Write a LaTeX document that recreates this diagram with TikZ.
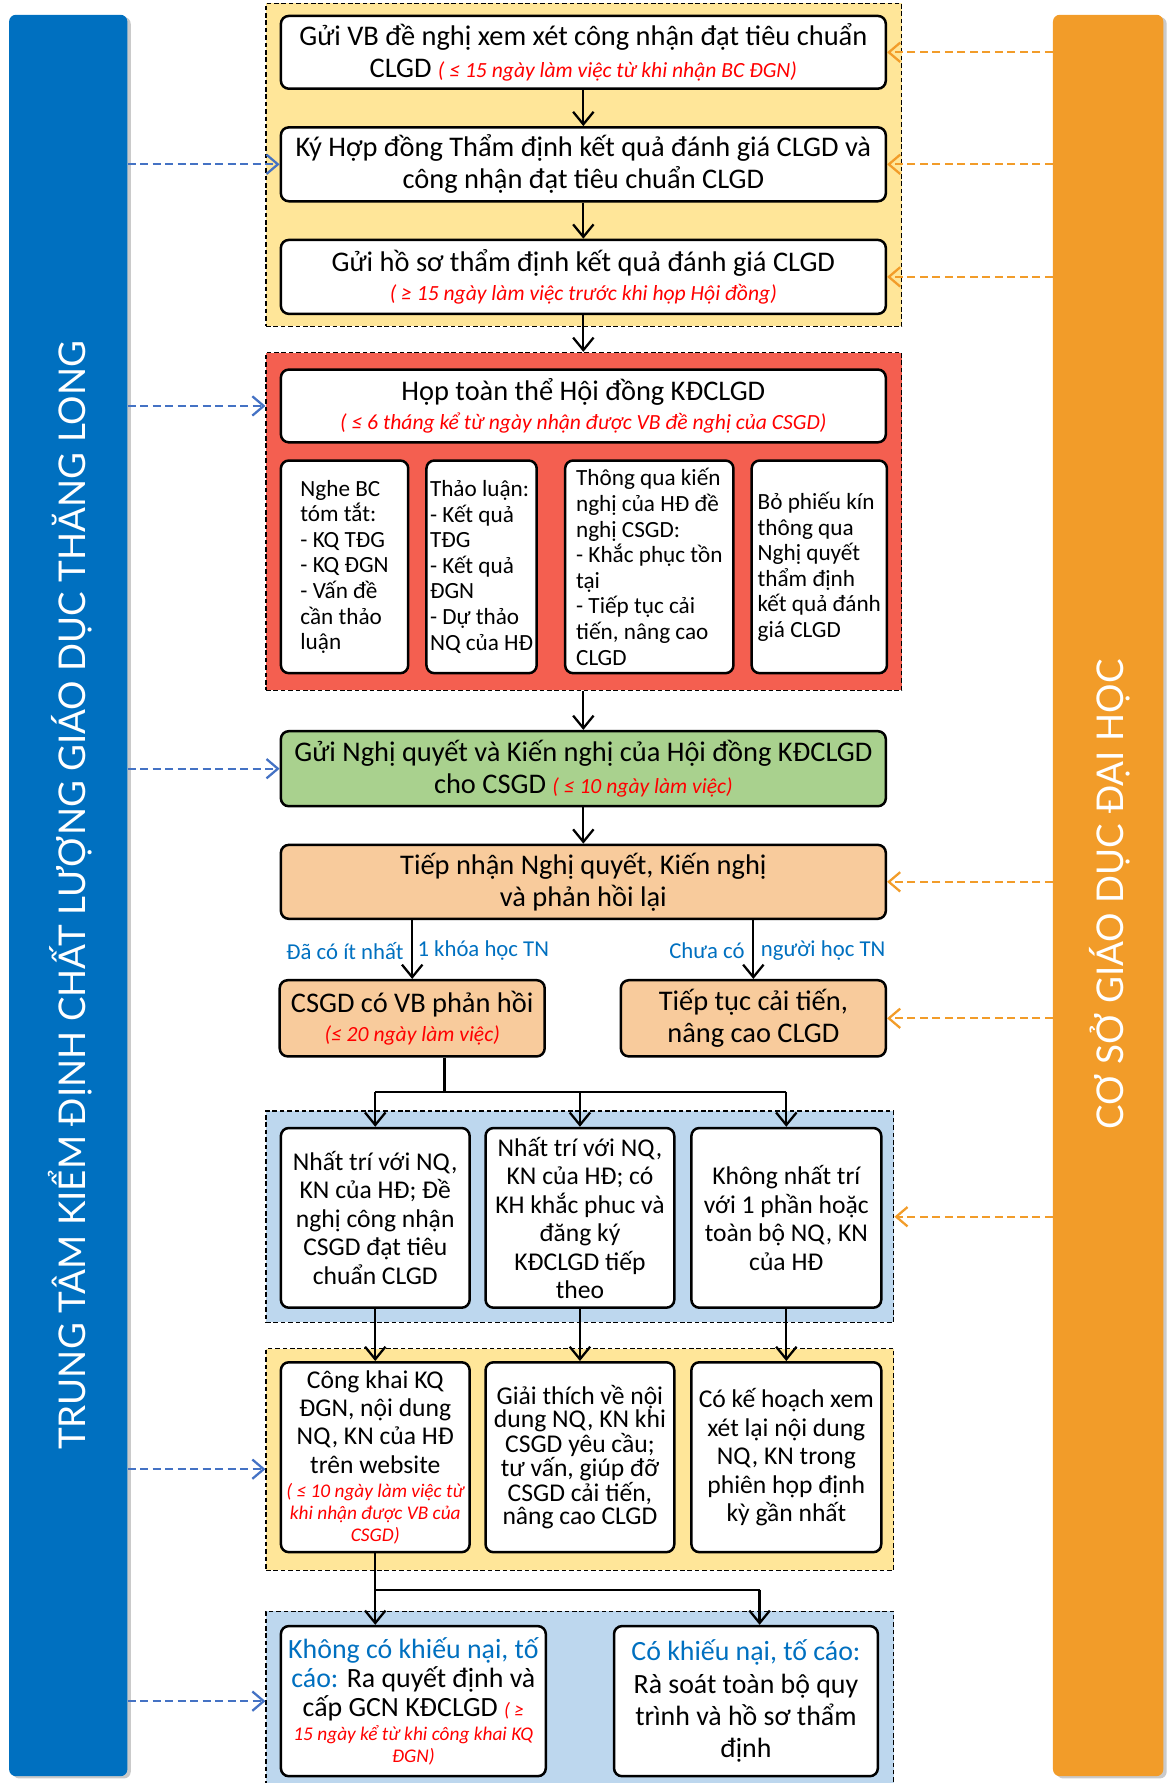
\documentclass[tikz,border=0pt]{standalone}
\usepackage{fontspec}
\usepackage{graphicx}
\setmainfont{Carlito}
\newfontfamily\sidefont{Lato}
\usetikzlibrary{arrows.meta,shadows}
\definecolor{cBlueBar}{RGB}{0,112,192}
\definecolor{cOrgBar}{RGB}{242,156,41}
\definecolor{cYel}{RGB}{255,230,153}
\definecolor{cRedG}{RGB}{244,95,80}
\definecolor{cBlueG}{RGB}{189,215,238}
\definecolor{cGreen}{RGB}{169,209,142}
\definecolor{cPeach}{RGB}{248,203,156}
\definecolor{cDashB}{RGB}{68,114,196}
\definecolor{cDashO}{RGB}{242,156,41}
\definecolor{cLbl}{RGB}{0,112,192}
\definecolor{cRed}{RGB}{255,0,0}
\newcommand\fMain{\fontsize{25}{28}\selectfont}
\newcommand\fSub{\fontsize{20.4}{22.5}\selectfont}
\newcommand\fMid{\fontsize{22.5}{25}\selectfont}
\newcommand\fRed{\fontsize{19}{20}\selectfont\itshape\color{cRed}}
\newcommand\fRedS{\fontsize{17}{19}\selectfont\itshape\color{cRed}}
\newcommand\fLbl{\fontsize{20}{22}\selectfont\color{cLbl}}
\begin{document}
\begin{tikzpicture}[x=1pt,y=-1pt,
  box/.style={draw=black, line width=2.2pt, rounded corners=7pt, fill=white, inner sep=1pt, align=center, font=\fMain},
  sub/.style={box, align=left, font=\fSub},
  mid/.style={box, font=\fMid},
  grp/.style={draw=black, line width=1.1pt, dash pattern=on 4pt off 2.5pt, inner sep=0pt},
  bar/.style={rounded corners=6pt, inner sep=0pt, drop shadow={shadow xshift=3pt, shadow yshift=-2pt, opacity=0.35, fill=black!60}},
  arr/.style={line width=2pt, -{Straight Barb[length=11pt,width=18pt,line width=2pt]}},
  conn/.style={line width=2pt},
  barr/.style={draw=cDashB, line width=2pt, dash pattern=on 7pt off 4pt, -{Straight Barb[length=10pt,width=17pt,line width=2pt]}},
  oarr/.style={draw=cDashO, line width=2pt, dash pattern=on 7pt off 4pt, -{Straight Barb[length=10pt,width=17pt,line width=2pt]}},
  lbl/.style={inner sep=0pt, font=\fLbl},
  side/.style={rotate=90, text=white, inner sep=0pt}
]
\useasboundingbox (0,0) rectangle (1031,1568);

% side bars
\node[bar, fill=cBlueBar, minimum width=104pt, minimum height=1549pt] (lbar) at (60,787.5) {};
\node[side] (ltxt) at (62,787.5) {\resizebox{975pt}{!}{\sidefont TRUNG TÂM KIỂM ĐỊNH CHẤT LƯỢNG GIÁO DỤC THĂNG LONG}};
\node[bar, fill=cOrgBar, minimum width=97pt, minimum height=1549pt] (rbar) at (974.5,787.5) {};
\node[side] (rtxt) at (976,786.5) {\resizebox{413pt}{!}{\sidefont CƠ SỞ GIÁO DỤC ĐẠI HỌC}};

% groups
\node[grp, fill=cYel, minimum width=559pt, minimum height=284pt] (g1) at (513.5,145) {};
\node[grp, fill=cRedG, minimum width=559pt, minimum height=297pt] (g2) at (513.5,458.5) {};
\node[grp, fill=cBlueG, minimum width=552pt, minimum height=186pt] (g4) at (510,1070) {};
\node[grp, fill=cYel, minimum width=552pt, minimum height=195pt] (g5) at (510,1283.5) {};
\node[grp, fill=cBlueG, minimum width=552pt, minimum height=183pt] (g6) at (510,1508.5) {};

% top group
\node[box, minimum width=532pt, minimum height=64pt] (b1) at (513,46) {Gửi VB đề nghị xem xét công nhận đạt tiêu chuẩn\\CLGD {\fRed ( ≤ 15 ngày làm việc từ khi nhận BC ĐGN)}};
\node[box, minimum width=532pt, minimum height=65pt] (b2) at (513,144.5) {Ký Hợp đồng Thẩm định kết quả đánh giá CLGD và\\công nhận đạt tiêu chuẩn CLGD};
\node[box, minimum width=532pt, minimum height=65pt] (b3) at (513,243.5) {Gửi hồ sơ thẩm định kết quả đánh giá CLGD\\[-3pt]{\fRed ( ≥ 15 ngày làm việc trước khi họp Hội đồng)}};

% red group
\node[box, minimum width=532pt, minimum height=64pt] (hop) at (513,357) {Họp toàn thể Hội đồng KĐCLGD\\[-3pt]{\fRed ( ≤ 6 tháng kể từ ngày nhận được VB đề nghị của CSGD)}};
\node[sub, minimum width=112pt, minimum height=187pt] (sa) at (303,498.5) {Nghe BC\\tóm tắt:\\- KQ TĐG\\- KQ ĐGN\\- Vấn đề\\cần thảo\\luận};
\node[sub, minimum width=97pt, minimum height=187pt] (sb) at (423.5,498.5) {Thảo luận:\\- Kết quả\\TĐG\\- Kết quả\\ĐGN\\- Dự thảo\\NQ của HĐ};
\node[sub, minimum width=148pt, minimum height=187pt] (sc) at (571,498.5) {Thông qua kiến\\nghị của HĐ đề\\nghị CSGD:\\- Khắc phục tồn\\tại\\- Tiếp tục cải\\tiến, nâng cao\\CLGD};
\node[sub, minimum width=119pt, minimum height=187pt] (sd) at (720.5,498.5) {Bỏ phiếu kín\\thông qua\\Nghị quyết\\thẩm định\\kết quả đánh\\giá CLGD};

% green and peach
\node[box, fill=cGreen, minimum width=532pt, minimum height=66pt] (gr) at (513,676) {Gửi Nghị quyết và Kiến nghị của Hội đồng KĐCLGD\\cho CSGD {\fRed ( ≤ 10 ngày làm việc)}};
\node[box, fill=cPeach, minimum width=532pt, minimum height=65pt] (tn) at (513,775.5) {Tiếp nhận Nghị quyết, Kiến nghị\\và phản hồi lại};
\node[box, fill=cPeach, minimum width=233pt, minimum height=67pt] (cs) at (362.5,895.5) {CSGD có VB phản hồi\\[-3pt]{\fRed (≤ 20 ngày làm việc)}};
\node[box, fill=cPeach, minimum width=233pt, minimum height=67pt] (tt) at (662.5,895.5) {Tiếp tục cải tiến,\\nâng cao CLGD};

% blue group 1
\node[mid, minimum width=166pt, minimum height=158pt] (e) at (330,1071) {Nhất trí với NQ,\\KN của HĐ; Đề\\nghị công nhận\\CSGD đạt tiêu\\chuẩn CLGD};
\node[mid, minimum width=166pt, minimum height=158pt] (f) at (510,1071) {Nhất trí với NQ,\\KN của HĐ; có\\KH khắc phuc và\\đăng ký\\KĐCLGD tiếp\\theo};
\node[mid, minimum width=167pt, minimum height=158pt] (g) at (691.5,1071) {Không nhất trí\\với 1 phần hoặc\\toàn bộ NQ, KN\\của HĐ};

% yellow group 2
\node[mid, minimum width=166pt, minimum height=167pt] (h) at (330,1281.5) {Công khai KQ\\ĐGN, nội dung\\NQ, KN của HĐ\\trên website\\[-4pt]{\fRedS ( ≤ 10 ngày làm việc từ}\\[-5.5pt]{\fRedS khi nhận được VB của}\\[-5.5pt]{\fRedS CSGD)}};
\node[mid, font=\fontsize{22.5}{20.2}\selectfont, minimum width=166pt, minimum height=167pt] (i) at (510,1281.5) {Giải thích về nội\\dung NQ, KN khi\\CSGD yêu cầu;\\tư vấn, giúp đỡ\\CSGD cải tiến,\\nâng cao CLGD};
\node[mid, minimum width=167pt, minimum height=167pt] (j) at (691.5,1281.5) {Có kế hoạch xem\\xét lại nội dung\\NQ, KN trong\\phiên họp định\\kỳ gần nhất};

% blue group 2
\node[box, font=\fontsize{24.5}{25.5}\selectfont, minimum width=233pt, minimum height=132pt] (k) at (363.5,1496) {{\color{cLbl}Không có khiếu nại, tố}\\{\color{cLbl}cáo:} Ra quyết định và\\cấp GCN KĐCLGD {\fRedS ( ≥}\\[-4pt]{\fRedS 15 ngày kể từ khi công khai KQ}\\[-6.5pt]{\fRedS ĐGN)}};
\node[box, font=\fontsize{24.5}{28.5}\selectfont, minimum width=232pt, minimum height=132pt] (l) at (656,1496) {{\color{cLbl}Có khiếu nại, tố cáo:}\\Rà soát toàn bộ quy\\trình và hồ sơ thẩm\\định};

% main flow connectors
\draw[arr] (b1) -- (b2);
\draw[arr] (b2) -- (b3);
\draw[arr] (b3.south) -- (b3.south |- g2.north);
\draw[arr] (gr.north |- g2.south) -- (gr.north);
\draw[arr] (gr) -- (tn);
\draw[arr] (tn.south -| cs.north) -- (cs.north);
\draw[arr] (tn.south -| tt.north) -- (tt.north);
\node[lbl, anchor=east] (la1) at (355,836) {Đã có ít nhất};
\node[lbl, anchor=west] (la2) at (367,836) {1 khóa học TN};
\node[lbl, anchor=east] (lb1) at (655,836) {Chưa có};
\node[lbl, anchor=west] (lb2) at (669,836) {người học TN};

\coordinate (j1) at ([xshift=28.5pt]cs.south);
\coordinate (hb) at (0,960);
\draw[conn] (j1) -- (j1 |- hb);
\draw[conn] (e.north |- hb) -- (g.north |- hb);
\draw[arr] (e.north |- hb) -- (e.north);
\draw[arr] (f.north |- hb) -- (f.north);
\draw[arr] (g.north |- hb) -- (g.north);
\draw[arr] (e) -- (h);
\draw[arr] (f) -- (i);
\draw[arr] (g) -- (j);

\coordinate (hb2) at (0,1398);
\coordinate (lin) at ([xshift=12pt]l.north);
\draw[conn] (h.south) -- (h.south |- hb2) -- (lin |- hb2);
\draw[arr] (h.south |- hb2) -- (h.south |- k.north);
\draw[arr] (lin |- hb2) -- (lin);

% side connectors
\coordinate (yb) at (0,1292);
\draw[barr] (lbar.east |- b2.west) -- (b2.west);
\draw[barr] (lbar.east |- hop.west) -- (hop.west -| g2.west);
\draw[barr] (lbar.east |- gr.west) -- (gr.west);
\draw[barr] (lbar.east |- yb) -- (g5.west |- yb);
\draw[barr] (lbar.east |- k.west) -- (k.west -| g6.west);

\draw[oarr] (rbar.west |- b1.east) -- (b1.east);
\draw[oarr] (rbar.west |- b2.east) -- (b2.east);
\draw[oarr] (rbar.west |- b3.east) -- (b3.east);
\draw[oarr] (rbar.west |- tn.east) -- (tn.east);
\draw[oarr] (rbar.west |- tt.east) -- (tt.east);
\draw[oarr] (rbar.west |- g4.east) -- (g4.east);
\end{tikzpicture}
\end{document}
